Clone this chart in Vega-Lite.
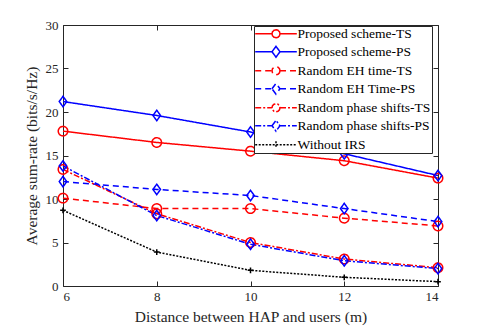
{
  "$schema": "https://vega.github.io/schema/vega-lite/v6.json",
  "width": 375,
  "height": 261,
  "autosize": "none",
  "padding": {"left": 63, "top": 25, "right": 47, "bottom": 44},
  "background": "white",
  "config": {
    "font": "Liberation Serif",
    "view": {"stroke": "#262626", "strokeWidth": 1},
    "axis": {
      "grid": false,
      "domain": false,
      "tickSize": -5,
      "tickColor": "#262626",
      "labelFont": "Liberation Serif",
      "labelFontSize": 13,
      "labelColor": "#262626",
      "titleFont": "Liberation Serif",
      "titleFontSize": 15.5,
      "titleFontWeight": "normal",
      "titleColor": "#262626"
    }
  },
  "data": {
    "values": [
      {"series": "Proposed scheme-TS", "d": 6, "r": 17.8},
      {"series": "Proposed scheme-TS", "d": 8, "r": 16.5},
      {"series": "Proposed scheme-TS", "d": 10, "r": 15.5},
      {"series": "Proposed scheme-TS", "d": 12, "r": 14.4},
      {"series": "Proposed scheme-TS", "d": 14, "r": 12.4},
      {"series": "Proposed scheme-PS", "d": 6, "r": 21.2},
      {"series": "Proposed scheme-PS", "d": 8, "r": 19.6},
      {"series": "Proposed scheme-PS", "d": 10, "r": 17.7},
      {"series": "Proposed scheme-PS", "d": 12, "r": 15.2},
      {"series": "Proposed scheme-PS", "d": 14, "r": 12.7},
      {"series": "Random EH time-TS", "d": 6, "r": 10.1},
      {"series": "Random EH time-TS", "d": 8, "r": 8.9},
      {"series": "Random EH time-TS", "d": 10, "r": 8.9},
      {"series": "Random EH time-TS", "d": 12, "r": 7.8},
      {"series": "Random EH time-TS", "d": 14, "r": 6.9},
      {"series": "Random EH Time-PS", "d": 6, "r": 12.0},
      {"series": "Random EH Time-PS", "d": 8, "r": 11.1},
      {"series": "Random EH Time-PS", "d": 10, "r": 10.4},
      {"series": "Random EH Time-PS", "d": 12, "r": 8.9},
      {"series": "Random EH Time-PS", "d": 14, "r": 7.4},
      {"series": "Random phase shifts-TS", "d": 6, "r": 13.4},
      {"series": "Random phase shifts-TS", "d": 8, "r": 8.3},
      {"series": "Random phase shifts-TS", "d": 10, "r": 5.0},
      {"series": "Random phase shifts-TS", "d": 12, "r": 3.1},
      {"series": "Random phase shifts-TS", "d": 14, "r": 2.1},
      {"series": "Random phase shifts-PS", "d": 6, "r": 13.8},
      {"series": "Random phase shifts-PS", "d": 8, "r": 8.1},
      {"series": "Random phase shifts-PS", "d": 10, "r": 4.8},
      {"series": "Random phase shifts-PS", "d": 12, "r": 2.9},
      {"series": "Random phase shifts-PS", "d": 14, "r": 2.0},
      {"series": "Without IRS", "d": 6, "r": 8.7},
      {"series": "Without IRS", "d": 8, "r": 3.9},
      {"series": "Without IRS", "d": 10, "r": 1.8},
      {"series": "Without IRS", "d": 12, "r": 1.0},
      {"series": "Without IRS", "d": 14, "r": 0.5}
    ]
  },
  "resolve": {"scale": {"x": "independent", "y": "independent"}},
  "layer": [
    {
      "encoding": {
        "x": {"field": "d", "type": "quantitative", "scale": {"domain": [6, 14], "nice": false},
              "axis": {"values": [6, 8, 10, 12, 14], "title": "Distance between HAP and users  (m)", "labelPadding": 9, "titlePadding": 6}},
        "y": {"field": "r", "type": "quantitative", "scale": {"domain": [0, 30], "nice": false},
              "axis": {"values": [0, 5, 10, 15, 20, 25, 30], "title": "Average sum-rate (bits/s/Hz)", "labelPadding": 10, "titlePadding": 6}},
        "color": {"field": "series", "type": "nominal",
          "scale": {
            "domain": ["Proposed scheme-TS", "Proposed scheme-PS", "Random EH time-TS", "Random EH Time-PS", "Random phase shifts-TS", "Random phase shifts-PS", "Without IRS"],
            "range": ["#ff0000", "#0000ff", "#ff0000", "#0000ff", "#ff0000", "#0000ff", "#000000"]
          },
          "legend": {
            "title": null,
            "orient": "none",
            "legendX": 191,
            "legendY": 1,
            "fillColor": "white",
            "strokeColor": "#262626",
            "padding": 1,
            "labelFont": "Liberation Serif",
            "labelFontSize": 13.5,
            "labelColor": "#000000",
            "symbolSize": 64,
            "symbolStrokeWidth": 1.5,
            "rowPadding": 2,
            "labelOffset": 29,
            "labelLimit": 300,
            "encode": {
              "symbols": {
                "update": {
                  "x": {"value": 21},
                  "shape": {"signal": "indexof(datum.value, 'IRS') >= 0 ? 'M-5.2,0H5.2M0,-0.9V0.9' : (indexof(datum.value, 'PS') >= 0 ? 'M-5.2,0H-1M1,0H5.2M-1,0L0,-1.35L1,0L0,1.35Z' : 'M-5.2,0H-1M1,0H5.2M1,0L0.87,0.5L0.5,0.87L0,1L-0.5,0.87L-0.87,0.5L-1,0L-0.87,-0.5L-0.5,-0.87L0,-1L0.5,-0.87L0.87,-0.5Z')"},
                  "fill": {"value": "transparent"}
                }
              }
            }
          }
        },
        "strokeDash": {"field": "series", "type": "nominal",
          "scale": {
            "domain": ["Proposed scheme-TS", "Proposed scheme-PS", "Random EH time-TS", "Random EH Time-PS", "Random phase shifts-TS", "Random phase shifts-PS", "Without IRS"],
            "range": [[1, 0], [1, 0], [6, 4], [6, 4], [6, 2, 2, 2], [6, 2, 2, 2], [2, 1.5]]
          }
        }
      },
      "layer": [
        {"mark": {"type": "line", "strokeWidth": 1.5}},
        {"transform": [{"filter": "indexof(datum.series, 'TS') >= 0"}],
         "mark": {"type": "point", "shape": "circle", "filled": false, "strokeWidth": 1.5, "opacity": 1, "size": 90},
         "encoding": {"strokeDash": {"value": [1, 0]}}},
        {"transform": [{"filter": "indexof(datum.series, 'PS') >= 0"}],
         "mark": {"type": "point", "shape": "M0,-1L0.72,0L0,1L-0.72,0Z", "filled": false, "strokeWidth": 1.5, "opacity": 1, "size": 110},
         "encoding": {"strokeDash": {"value": [1, 0]}}},
        {"transform": [{"filter": "indexof(datum.series, 'IRS') >= 0"}],
         "mark": {"type": "point", "shape": "M-0.6,0H0.6M0,-0.6V0.6", "filled": false, "strokeWidth": 1.5, "opacity": 1, "size": 90},
         "encoding": {"strokeDash": {"value": [1, 0]}}}
      ]
    },
    {
      "mark": {"type": "point", "opacity": 0},
      "encoding": {
        "x": {"field": "d", "type": "quantitative", "scale": {"domain": [6, 14], "nice": false},
              "axis": {"orient": "top", "values": [6, 8, 10, 12, 14], "labels": false, "title": null}},
        "y": {"field": "r", "type": "quantitative", "scale": {"domain": [0, 30], "nice": false},
              "axis": {"orient": "right", "values": [0, 5, 10, 15, 20, 25, 30], "labels": false, "title": null}}
      }
    }
  ]
}
